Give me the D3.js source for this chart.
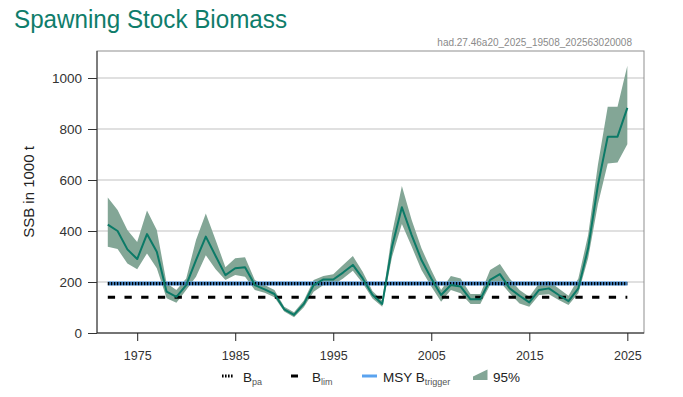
<!DOCTYPE html>
<html>
<head>
<meta charset="utf-8">
<script src="https://cdn.jsdelivr.net/npm/d3@7"></script>
<style>
  html, body { margin: 0; padding: 0; background: #ffffff; }
  svg { display: block; font-family: "Liberation Sans", Arial, sans-serif; }
</style>
</head>
<body>
<svg id="chart" width="683" height="397"></svg>
<script>
// ---- data ----
const years = d3.range(1972, 2026);
const ssb = [425, 400, 328, 290, 388, 319, 162, 142, 188, 286,
             378, 302, 227, 254, 258, 188, 171, 153, 93, 71,
             114, 188, 210, 210, 237, 267, 214, 150, 114, 339,
             493, 384, 286, 214, 149, 188, 182, 132, 132, 208,
             231, 175, 146, 120, 169, 175, 149, 125, 175, 332,
             580, 770, 770, 883];
const ssbLow = [338, 329, 273, 250, 312, 254, 136, 119, 169, 221,
                305, 250, 208, 227, 221, 169, 158, 140, 84, 62,
                101, 162, 188, 188, 214, 244, 195, 135, 103, 299,
                427, 339, 247, 182, 123, 169, 156, 114, 114, 188,
                201, 156, 116, 103, 149, 152, 129, 110, 156, 293,
                505, 665, 669, 740];
const ssbHigh = [531, 482, 404, 357, 480, 404, 195, 169, 214, 365,
                 469, 365, 258, 293, 297, 208, 188, 169, 103, 81,
                 127, 208, 224, 230, 267, 302, 240, 165, 127, 391,
                 576, 443, 332, 247, 169, 224, 214, 153, 153, 247,
                 271, 214, 169, 142, 195, 204, 175, 146, 214, 384,
                 660, 887, 887, 1048];
const Bpa = 194;
const Blim = 140;
const MSYBtrigger = 194;
const yTicks = [0, 200, 400, 600, 800, 1000];
const xTicks = [1975, 1985, 1995, 2005, 2015, 2025];
const titleText = "Spawning Stock Biomass";
const subtitleText = "had.27.46a20_2025_19508_202563020008";
const yLabel = "SSB in 1000 t";

// ---- layout ----
const svg = d3.select("#chart");
const pL = 97, pR = 644, pT = 51, pB = 333;
const x = d3.scaleLinear().domain([1970.9, 2026.7]).range([pL, pR]);
const y = d3.scaleLinear().domain([0, 1000]).range([pB, 78]);

const teal = "#0b7a67";
const band = "#83a696";

// title & subtitle
svg.append("text").attr("x", 14).attr("y", 28)
  .attr("font-size", 25.5).attr("fill", "#0f7d6b")
  .attr("textLength", 273).attr("lengthAdjust", "spacingAndGlyphs")
  .text(titleText);
svg.append("text").attr("x", 632).attr("y", 46)
  .attr("text-anchor", "end").attr("font-size", 10).attr("fill", "#8a8a8a")
  .text(subtitleText);

// gridlines
svg.append("g").selectAll("line").data(yTicks.filter(d => d > 0)).join("line")
  .attr("x1", pL).attr("x2", pR)
  .attr("y1", d => y(d)).attr("y2", d => y(d))
  .attr("stroke", "#d6d6d6").attr("stroke-width", 1.3);

// panel border
svg.append("rect").attr("x", pL).attr("y", pT)
  .attr("width", pR - pL).attr("height", pB - pT)
  .attr("fill", "none").attr("stroke", "#8f8f8f").attr("stroke-width", 1);

// confidence band
const area = d3.area()
  .x((d, i) => x(years[i]))
  .y0((d, i) => y(ssbLow[i]))
  .y1((d, i) => y(ssbHigh[i]));
svg.append("path").datum(ssb).attr("d", area).attr("fill", band);

// reference lines
const yr0 = years[0], yr1 = years[years.length - 1];
svg.append("line").attr("x1", x(yr0)).attr("x2", x(yr1))
  .attr("y1", y(MSYBtrigger)).attr("y2", y(MSYBtrigger))
  .attr("stroke", "#4e9be8").attr("stroke-width", 4);
svg.append("line").attr("x1", x(yr0)).attr("x2", x(yr1))
  .attr("y1", y(Bpa)).attr("y2", y(Bpa))
  .attr("stroke", "#000").attr("stroke-width", 3.2)
  .attr("stroke-dasharray", "1.6,1.4");
svg.append("line").attr("x1", x(yr0)).attr("x2", x(yr1))
  .attr("y1", y(Blim)).attr("y2", y(Blim))
  .attr("stroke", "#000").attr("stroke-width", 3)
  .attr("stroke-dasharray", "7.3,9.4");

// SSB line
const line = d3.line().x((d, i) => x(years[i])).y(d => y(d));
svg.append("path").datum(ssb).attr("d", line)
  .attr("fill", "none").attr("stroke", teal).attr("stroke-width", 2)
  .attr("stroke-linejoin", "round");

// axes
const yAxis = svg.append("g").attr("transform", `translate(${pL},0)`)
  .call(d3.axisLeft(y).tickValues(yTicks).tickFormat(d3.format("d"))
    .tickSize(9).tickPadding(6).tickSizeOuter(0));
yAxis.select(".domain").attr("stroke", "#333").attr("d", `M0,${pT}V${pB}`);
yAxis.selectAll(".tick line").attr("stroke", "#333");
yAxis.selectAll("text").attr("font-size", 13.5).attr("fill", "#333")
  .attr("font-family", "Liberation Sans, Arial, sans-serif");

const xAxis = svg.append("g").attr("transform", `translate(0,${pB})`)
  .call(d3.axisBottom(x).tickValues(xTicks).tickFormat(d3.format("d"))
    .tickSize(8).tickPadding(10).tickSizeOuter(0));
xAxis.select(".domain").attr("stroke", "#222").attr("d", `M${pL},0H${pR}`);
xAxis.selectAll(".tick line").attr("stroke", "#222");
xAxis.selectAll("text").attr("font-size", 12.5).attr("fill", "#333")
  .attr("font-family", "Liberation Sans, Arial, sans-serif");

// y label
svg.append("text").attr("transform", `translate(34,${(pT + pB) / 2}) rotate(-90)`)
  .attr("text-anchor", "middle").attr("font-size", 15).attr("fill", "#222")
  .text(yLabel);

// legend
const ly = 376;
const lg = svg.append("g").attr("font-size", 13.5).attr("fill", "#222");
lg.append("line").attr("x1", 222).attr("x2", 234).attr("y1", ly).attr("y2", ly)
  .attr("stroke", "#000").attr("stroke-width", 3).attr("stroke-dasharray", "1.6,1.4");
const t1 = lg.append("text").attr("x", 243).attr("y", 382);
t1.append("tspan").text("B");
t1.append("tspan").attr("font-size", 9).attr("dy", 3).attr("fill", "#555").text("pa");

lg.append("line").attr("x1", 291).attr("x2", 298).attr("y1", ly).attr("y2", ly)
  .attr("stroke", "#000").attr("stroke-width", 3);
const t2 = lg.append("text").attr("x", 312).attr("y", 382);
t2.append("tspan").text("B");
t2.append("tspan").attr("font-size", 9).attr("dy", 3).attr("fill", "#555").text("lim");

lg.append("line").attr("x1", 362).attr("x2", 377).attr("y1", ly).attr("y2", ly)
  .attr("stroke", "#5aa3ef").attr("stroke-width", 3);
const t3 = lg.append("text").attr("x", 383).attr("y", 382);
t3.append("tspan").text("MSY B");
t3.append("tspan").attr("font-size", 9).attr("dy", 3).attr("fill", "#555").text("trigger");

lg.append("path").attr("d", "M473,380L473,376.5L487.5,369.5L487.5,380Z").attr("fill", band);
lg.append("text").attr("x", 493).attr("y", 382).text("95%");
</script>
</body>
</html>
